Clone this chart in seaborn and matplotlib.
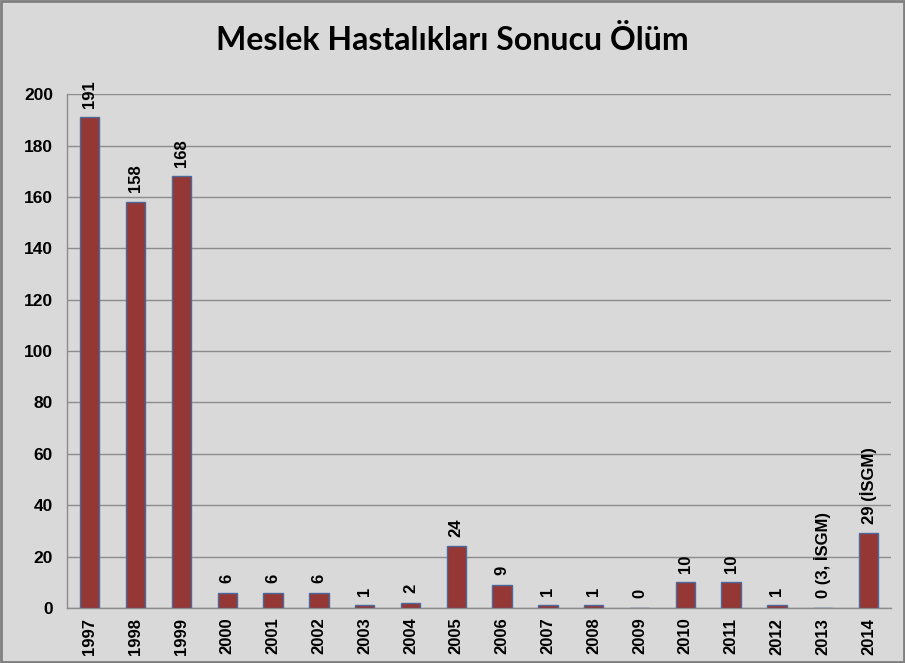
import matplotlib
matplotlib.use('Agg')
import matplotlib.pyplot as plt
import seaborn as sns
import pandas as pd
from matplotlib.patches import Rectangle

# Chart data
years = ['1997', '1998', '1999', '2000', '2001', '2002', '2003', '2004', '2005',
         '2006', '2007', '2008', '2009', '2010', '2011', '2012', '2013', '2014']
deaths = [191, 158, 168, 6, 6, 6, 1, 2, 24, 9, 1, 1, 0, 10, 10, 1, 0, 29]
bar_labels = ['191', '158', '168', '6', '6', '6', '1', '2', '24', '9', '1', '1',
              '0', '10', '10', '1', '0 (3, İSGM)', '29 (İSGM)']
y_ticks = [0, 20, 40, 60, 80, 100, 120, 140, 160, 180, 200]

df = pd.DataFrame({'year': years, 'deaths': deaths})

sns.set_style('white')
plt.rcParams['font.family'] = ['Liberation Sans', 'DejaVu Sans']
plt.rcParams['text.color'] = 'black'
plt.rcParams['xtick.labelcolor'] = 'black'
plt.rcParams['ytick.labelcolor'] = 'black'

bg = '#d9d9d9'
fig = plt.figure(figsize=(9.05, 6.63), dpi=100, facecolor=bg)
ax = fig.add_axes([0.074, 0.083, 0.911, 0.775])
ax.set_facecolor(bg)

sns.barplot(data=df, x='year', y='deaths', color='#953735', width=0.42,
            edgecolor='#4a6a9c', linewidth=1.0, saturation=1, ax=ax, zorder=3)

# value labels above bars
for i, (v, lab) in enumerate(zip(deaths, bar_labels)):
    ax.annotate(lab, (i, v), xytext=(0, 7), textcoords='offset points',
                rotation=90, ha='center', va='bottom', fontsize=12,
                fontweight='bold', color='black')

ax.set_ylim(0, 200)
ax.set_xlim(-0.5, len(years) - 0.5)
ax.set_yticks(y_ticks)
ax.yaxis.grid(True, color='#8c8c8c', linewidth=1.0, zorder=0)
ax.set_axisbelow(True)

# category separators as minor ticks (Excel style)
ax.set_xticks([i + 0.5 for i in range(-1, len(years))], minor=True)
ax.tick_params(axis='x', which='major', length=0, pad=7, rotation=90,
               labelsize=12)
ax.tick_params(axis='x', which='minor', length=5, color='#8c8c8c', width=1)
ax.tick_params(axis='y', which='major', length=6, color='#8c8c8c', width=1,
               labelsize=12.5, pad=4)
for t in ax.get_xticklabels() + ax.get_yticklabels():
    t.set_fontweight('bold')

for side in ['top', 'right']:
    ax.spines[side].set_visible(False)
for side in ['left', 'bottom']:
    ax.spines[side].set_color('#8c8c8c')
    ax.spines[side].set_linewidth(1.0)

ax.set_xlabel('')
ax.set_ylabel('')

fig.text(0.5, 0.94, 'Meslek Hastalıkları Sonucu Ölüm', ha='center', va='center',
         fontsize=23, fontweight='bold', color='black',
         family=['Lato', 'DejaVu Sans'])

# outer border
fig.patches.append(Rectangle((0.001, 0.001), 0.998, 0.997, transform=fig.transFigure,
                             fill=False, edgecolor='#7f7f7f', linewidth=2))

fig.savefig('out.png', dpi=100, facecolor=bg)
